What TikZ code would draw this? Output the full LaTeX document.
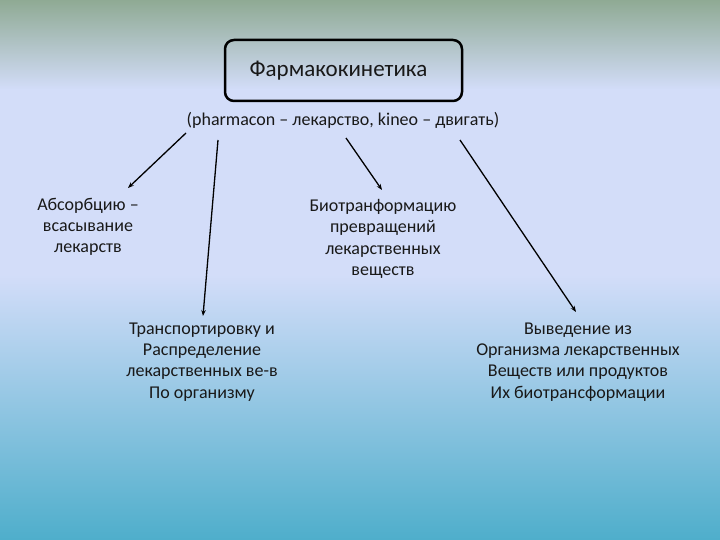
\documentclass[tikz,border=0pt]{standalone}
\usepackage{fontspec}
\setmainfont{Carlito}
\usetikzlibrary{arrows.meta}
\definecolor{bgtop}{HTML}{8FAA94}
\definecolor{bgmid}{HTML}{D3DDF9}
\definecolor{bgbot}{HTML}{4EAECB}
\tikzset{
  lbl/.style={align=center, font=\fontsize{18}{21.3}\selectfont, text=black!90, inner sep=0pt},
  arr/.style={line width=1.3pt, -{Stealth[length=6pt,width=4.5pt]}},
}
\begin{document}
\begin{tikzpicture}[x=1pt,y=-1pt]
\useasboundingbox (0,0) rectangle (720,540);
\shade[top color=bgtop, bottom color=bgmid] (0,0) rectangle (720,90);
\fill[bgmid] (0,89.5) rectangle (720,275.5);
\shade[top color=bgmid, bottom color=bgbot] (0,275) rectangle (720,540);

\node[draw=black, line width=2.5pt, rounded corners=9pt, minimum width=237pt, minimum height=61pt,
      font=\fontsize{23}{26}\selectfont, text=black!90] (title) at (343.5,70.5) {\hspace*{-10pt}Фармакокинетика};
\node[lbl] (sub) at (343,120) {(pharmacon – лекарство, kineo – двигать)};

\node[lbl] (abs) at (88,227) {Абсорбцию –\\всасывание\\лекарств};
\node[lbl] (bio) at (383,239) {Биотранформацию\\превращений\\лекарственных\\веществ};
\node[lbl] (tr) at (202,362) {Транспортировку и\\Распределение\\лекарственных ве-в\\По организму};
\node[lbl] (out) at (578,362) {Выведение из\\Организма лекарственных\\Веществ или продуктов\\Их биотрансформации};

\coordinate (s1) at (186,133);
\coordinate (s2) at (218,140);
\coordinate (s3) at (346,138);
\coordinate (s4) at (460,140);
\coordinate (e1) at (128,188);
\coordinate (e2) at (203,316);
\coordinate (e3) at (382,190);
\coordinate (e4) at (576,312);

\draw[arr] (s1) -- (e1);
\draw[arr] (s2) -- (e2);
\draw[arr] (s3) -- (e3);
\draw[arr] (s4) -- (e4);
\end{tikzpicture}
\end{document}
